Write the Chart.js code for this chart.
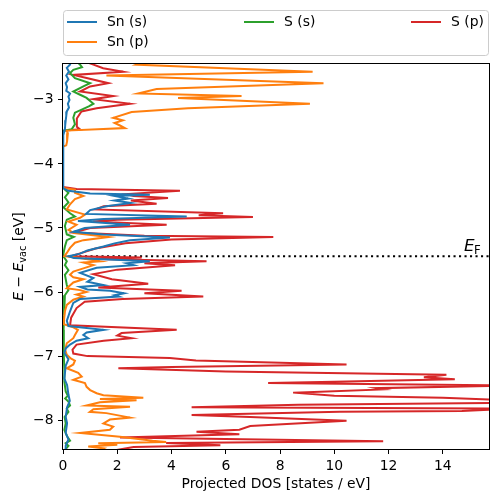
<!DOCTYPE html>
<html>
<head>
<meta charset="utf-8">
<script src="https://cdn.jsdelivr.net/npm/chart.js@4.4.0/dist/chart.umd.min.js"></script>
<style>
html, body { margin: 0; padding: 0; background: #fff; }
canvas { display: block; }
</style>
</head>
<body>
<canvas id="dosChart" width="498" height="502"></canvas>
<script>
// projected DOS, energy on the vertical axis
var seriesNames = ['Sn (s)', 'Sn (p)', 'S (s)', 'S (p)'];
var seriesColors = ['#1f77b4', '#ff7f0e', '#2ca02c', '#d62728'];

var energySnS = [-2.40,-2.45,-2.50,-2.56,-2.62,-2.68,-2.74,-2.80,-2.86,-2.90,-2.95,-3.00,-3.06,-3.12,-3.18,-3.25,-3.32,-3.40,-3.46,-3.49,-3.51,
  -4.36,-4.38,-4.42,-4.46,-4.48,-4.50,-4.54,-4.57,-4.61,-4.66,-4.72,-4.78,-4.82,-4.86,-4.89,-4.95,-5.00,-5.06,-5.10,-5.15,
  -5.19,-5.24,-5.29,-5.35,-5.40,-5.44,-5.47,-5.52,-5.55,-5.58,-5.62,-5.70,-5.78,-5.84,-5.89,-5.92,-5.96,-5.98,-6.02,-6.05,
  -6.07,-6.11,-6.17,-6.30,-6.45,-6.53,-6.59,-6.63,-6.67,-6.72,-6.76,-6.82,-6.88,-6.95,-7.05,-7.15,-7.35,-7.45,-7.60,-7.70,
  -7.80,-7.95,-8.05,-8.20,-8.30,-8.40,-8.50];
var dosSnS = [0.20,0.26,0.14,0.22,0.12,0.20,0.10,0.15,0.12,0.26,0.20,0.24,0.18,0.22,0.14,0.12,0.10,0.08,0.07,0.05,0,
  0,0.02,0.20,1.0,3.2,1.9,2.4,1.9,2.5,1.6,1.0,0.85,4.56,1.5,0.55,2.47,0.8,0.38,1.5,3.94,
  2.47,1.9,1.49,0.9,0.63,0.2,0.4,3.2,2.35,2.6,1.24,0.63,1.12,0.9,1.49,0.63,0.9,1.73,2.25,1.9,
  2.05,0.63,0.38,0.26,0.14,0.2,1.49,0.87,0.75,0.93,0.5,0.26,0.1,0.05,0.2,0.1,0.05,0.15,0.2,0.25,
  0.15,0.1,0.15,0.1,0.2,0.1,0.1];

var energySnP = [-2.40,-2.45,-2.56,-2.62,-2.74,-2.83,-2.90,-2.94,-2.97,-3.06,-3.13,-3.19,-3.28,-3.32,-3.36,-3.40,-3.44,-3.48,-3.52,-3.65,-3.71,-3.73,
  -4.36,-4.38,-4.40,-4.45,-4.50,-4.55,-4.63,-4.71,-4.79,-4.84,-4.90,-4.95,-5.03,-5.08,-5.14,-5.19,-5.23,-5.31,-5.39,-5.44,
  -5.47,-5.52,-5.54,-5.58,-5.63,-5.68,-5.73,-5.77,-5.80,-5.85,-5.94,-5.97,-6.00,-6.04,-6.07,-6.12,-6.20,-6.30,-6.50,-6.55,-6.59,
  -6.67,-6.72,-6.80,-6.90,-6.98,-7.04,-7.07,-7.13,-7.19,-7.26,-7.32,-7.37,-7.42,-7.48,-7.53,-7.58,-7.61,-7.65,-7.67,-7.69,
  -7.72,-7.77,-7.79,-7.83,-7.87,-7.89,-7.96,-7.99,-8.05,-8.10,-8.15,-8.20,-8.26,-8.32,-8.34,-8.36,-8.385,-8.41,-8.44,-8.50];
var dosSnP = [3.0,2.7,9.2,1.6,9.6,3.45,2.77,6.58,4.24,9.1,4.6,2.53,1.85,2.2,1.9,2.1,2.28,0.13,0.18,0.15,0.12,0,
  0,0.05,0.44,0.44,0.75,0.44,0.26,0.14,0.81,0.63,0.2,0.5,0.2,0.4,1.67,0.75,0.44,0.26,0.14,0.05,
  0.63,1.36,0.75,1.12,0.75,0.38,0.26,0.38,0.75,0.38,0.14,0.63,0.87,0.5,0.75,0.38,0.14,0.07,0.02,0.38,0.55,
  0.44,0.38,0.14,0.08,0.14,0.3,0.44,0.38,0.14,0.56,0.69,0.38,0.81,0.87,1.0,1.24,1.49,2.96,1.36,2.71,
  1.36,0.87,2.47,1.12,0.99,1.6,2.47,1.73,1.49,1.85,1.73,0.63,2.1,3.3,3.8,1.3,2.0,0.93,1.5,1.2];

var energySS = [-2.40,-2.45,-2.49,-2.53,-2.58,-2.66,-2.74,-2.79,-2.87,-2.92,-2.97,-3.06,-3.10,-3.14,-3.20,-3.28,-3.38,-3.46,-3.48,-3.50,
  -4.36,-4.40,-4.45,-4.52,-4.60,-4.68,-4.77,-4.82,-4.87,-4.97,-5.10,-5.14,-5.19,-5.29,-5.39,-5.44,-5.52,-5.58,-5.66,-5.73,
  -5.89,-5.97,-6.05,-6.15,-6.36,-6.59,-6.80,-7.00,-7.20,-7.40,-7.55,-7.62,-7.66,-7.71,-7.77,-7.82,-7.87,-7.95,-8.05,-8.15,
  -8.25,-8.32,-8.36,-8.40,-8.45,-8.50];
var dosSS = [0.5,0.63,0.7,0.38,0.26,0.44,1.0,0.75,0.38,0.63,0.87,1.12,0.95,0.75,0.44,0.38,0.44,0.32,0.05,0,
  0,0.07,0.2,0.07,0.2,0.02,0.26,0.44,0.14,0.07,0.14,0.4,0.14,0.07,0.02,0.01,0.14,0.07,0.2,0.07,
  0.14,0.2,0.07,0.04,0.04,0.02,0.03,0.03,0.05,0.05,0.1,0.18,0.08,0.2,0.26,0.14,0.2,0.06,0.1,0.05,
  0.15,0.26,0.1,0.2,0.1,0.1];

var energySP = [-2.40,-2.45,-2.505,-2.56,-2.61,-2.66,-2.74,-2.79,-2.87,-2.94,-2.99,-3.06,-3.13,-3.18,-3.29,-3.42,-3.46,-3.48,-3.50,
  -4.36,-4.39,-4.42,-4.47,-4.50,-4.53,-4.57,-4.62,-4.66,-4.71,-4.77,-4.80,-4.83,-4.87,-4.90,-4.95,-5.00,-5.07,-5.12,-5.14,
  -5.18,-5.24,-5.32,-5.40,-5.44,-5.46,-5.48,-5.52,-5.55,-5.58,-5.65,-5.72,-5.80,-5.87,-5.93,-5.98,-6.02,-6.07,-6.11,-6.15,
  -6.25,-6.40,-6.52,-6.59,-6.64,-6.68,-6.72,-6.76,-6.82,-6.90,-6.96,
  -7.00,-7.03,-7.07,-7.13,-7.17,-7.19,-7.24,-7.29,-7.33,-7.36,-7.40,-7.42,-7.46,-7.50,-7.52,-7.57,-7.62,-7.65,-7.69,-7.73,
  -7.76,-7.80,-7.82,-7.855,-7.87,-7.92,-7.95,-8.01,-8.09,-8.15,-8.18,-8.22,-8.27,-8.33,-8.355,-8.39,-8.42,-8.50];
var dosSP = [0.8,1.12,1.48,2.22,0.38,0.87,1.67,1.0,0.63,1.85,1.12,2.47,1.24,0.68,0.51,0.51,0.63,0.05,0,
  0,0.5,4.31,2.35,2.6,3.87,2.5,3.45,1.5,1.2,5.9,5.0,7.0,2.0,1.1,3.82,1.0,0.4,3.0,7.75,
  4.0,2.3,1.2,0.6,0.3,2.9,0.8,5.29,3.0,4.13,2.0,1.12,1.8,3.14,1.3,4.37,3.0,5.17,2.2,0.8,
  0.5,0.3,0.26,4.19,2.16,2.0,2.53,1.5,0.5,0.35,0.38,
  0.9,3.94,4.9,10.45,4.0,2.04,6.0,14.13,13.3,14.44,10.0,7.56,16.5,11.55,11.8,8.48,10.0,14.0,16.5,16.0,
  8.67,4.74,16.5,14.7,10.2,4.74,6.9,10.45,6.9,6.5,4.92,6.5,2.1,11.8,3.8,5.8,2.6,1.5];

var fermiLevel = -5.44;
var xTicks = [0, 2, 4, 6, 8, 10, 12, 14];
var yTicks = [-8, -7, -6, -5, -4, -3];
var xRange = [0, 15.7];
var yRange = [-8.45, -2.44];

var FONT = '"DejaVu Sans", sans-serif';

function toPoints(energies, dos) {
    return energies.map(function(e, i) { return { x: dos[i], y: e }; });
}

function minusLabel(v) {
    return v < 0 ? '\u2212' + Math.abs(v) : String(v);
}

var allEnergies = [energySnS, energySnP, energySS, energySP];
var allDos = [dosSnS, dosSnP, dosSS, dosSP];

var datasets = seriesNames.map(function(name, i) {
    return {
        label: name,
        data: toPoints(allEnergies[i], allDos[i]),
        borderColor: seriesColors[i],
        backgroundColor: seriesColors[i],
        borderWidth: 2,
        showLine: true,
        pointRadius: 0,
        tension: 0,
        fill: false,
        clip: 0
    };
});

// Fermi level, dotted across the whole axis
datasets.push({
    label: 'E_F',
    data: [{ x: xRange[0], y: fermiLevel }, { x: xRange[1], y: fermiLevel }],
    borderColor: '#000',
    borderWidth: 2,
    borderDash: [2.1, 3.4],
    showLine: true,
    pointRadius: 0,
    fill: false,
    clip: 0
});

// draws one line of text with italic / subscript pieces, centred on x
function drawParts(ctx, parts, cx, baseline, size) {
    var total = 0;
    parts.forEach(function(p) {
        var s = p.sub ? size * 0.7 : size;
        ctx.font = (p.italic ? 'oblique ' : '') + s + 'px ' + FONT;
        p.w = ctx.measureText(p.t).width;
        total += p.w;
    });
    var x = cx - total / 2;
    parts.forEach(function(p) {
        var s = p.sub ? size * 0.7 : size;
        ctx.font = (p.italic ? 'oblique ' : '') + s + 'px ' + FONT;
        ctx.fillText(p.t, x, baseline + (p.sub ? size * 0.22 : 0));
        x += p.w;
    });
}

var decorPlugin = {
    id: 'decor',
    afterDatasetsDraw: function(chart) {
        var ctx = chart.ctx;
        var a = chart.chartArea;
        ctx.save();

        // spines
        ctx.strokeStyle = '#000';
        ctx.lineWidth = 1;
        ctx.strokeRect(a.left - 0.5, a.top - 0.5, a.right - a.left + 1, a.bottom - a.top + 1);

        ctx.fillStyle = '#000';
        ctx.textAlign = 'left';
        ctx.textBaseline = 'alphabetic';

        // x title
        ctx.font = '13.9px ' + FONT;
        ctx.textAlign = 'center';
        ctx.textBaseline = 'middle';
        ctx.fillText('Projected DOS [states / eV]', (a.left + a.right) / 2, 484);

        // y title, rotated
        ctx.textAlign = 'left';
        ctx.textBaseline = 'alphabetic';
        ctx.save();
        ctx.translate(18, (a.top + a.bottom) / 2);
        ctx.rotate(-Math.PI / 2);
        drawParts(ctx, [
            { t: 'E', italic: true },
            { t: ' \u2212 ' },
            { t: 'E', italic: true },
            { t: 'vac', sub: true },
            { t: ' [eV]' }
        ], 0, 5, 13.9);
        ctx.restore();

        // E_F label near the right edge
        var yF = chart.scales.y.getPixelForValue(fermiLevel);
        ctx.font = 'oblique 16.7px ' + FONT;
        ctx.fillText('E', a.right - 25, yF - 5);
        ctx.font = '11.7px ' + FONT;
        ctx.fillText('F', a.right - 15, yF - 2);

        // legend, three columns filled top to bottom like matplotlib
        var lx = a.left, ly = 10, lw = a.right - a.left, lh = 46;
        ctx.beginPath();
        if (ctx.roundRect) ctx.roundRect(lx + 0.5, ly + 0.5, lw - 1, lh - 1, 3);
        else ctx.rect(lx + 0.5, ly + 0.5, lw - 1, lh - 1);
        ctx.fillStyle = 'rgba(255,255,255,0.8)';
        ctx.fill();
        ctx.strokeStyle = '#cccccc';
        ctx.lineWidth = 1;
        ctx.stroke();

        var cells = [[67, 22], [67, 42], [244, 22], [411, 22]];
        ctx.font = '13.9px ' + FONT;
        ctx.textBaseline = 'middle';
        seriesNames.forEach(function(name, i) {
            var c = cells[i];
            ctx.strokeStyle = seriesColors[i];
            ctx.lineWidth = 2;
            ctx.beginPath();
            ctx.moveTo(c[0], c[1]);
            ctx.lineTo(c[0] + 30, c[1]);
            ctx.stroke();
            ctx.fillStyle = '#000';
            ctx.fillText(name, c[0] + 40, c[1]);
        });

        ctx.restore();
    }
};

var ctx = document.getElementById('dosChart').getContext('2d');
var dosChart = new Chart(ctx, {
    type: 'scatter',
    data: { datasets: datasets },
    options: {
        responsive: false,
        animation: false,
        devicePixelRatio: 1,
        layout: { padding: { top: 64, right: 9, left: 0, bottom: 0 } },
        plugins: {
            legend: { display: false },
            tooltip: { enabled: false }
        },
        scales: {
            x: {
                type: 'linear',
                min: xRange[0],
                max: xRange[1],
                afterBuildTicks: function(scale) {
                    scale.ticks = xTicks.map(function(v) { return { value: v }; });
                },
                afterFit: function(scale) { scale.height = 53; },
                border: { display: false },
                grid: { drawOnChartArea: false, drawTicks: true, tickLength: 5, tickColor: '#000', lineWidth: 1 },
                ticks: {
                    color: '#000',
                    padding: 4,
                    maxRotation: 0,
                    font: { family: FONT, size: 13.9 },
                    callback: function(v) { return minusLabel(v); }
                }
            },
            y: {
                type: 'linear',
                min: yRange[0],
                max: yRange[1],
                afterBuildTicks: function(scale) {
                    scale.ticks = yTicks.map(function(v) { return { value: v }; });
                },
                afterFit: function(scale) { scale.width = 63; },
                border: { display: false },
                grid: { drawOnChartArea: false, drawTicks: true, tickLength: 5, tickColor: '#000', lineWidth: 1 },
                ticks: {
                    color: '#000',
                    padding: 4.5,
                    font: { family: FONT, size: 13.9 },
                    callback: function(v) { return minusLabel(v); }
                }
            }
        }
    },
    plugins: [decorPlugin]
});
</script>
</body>
</html>
